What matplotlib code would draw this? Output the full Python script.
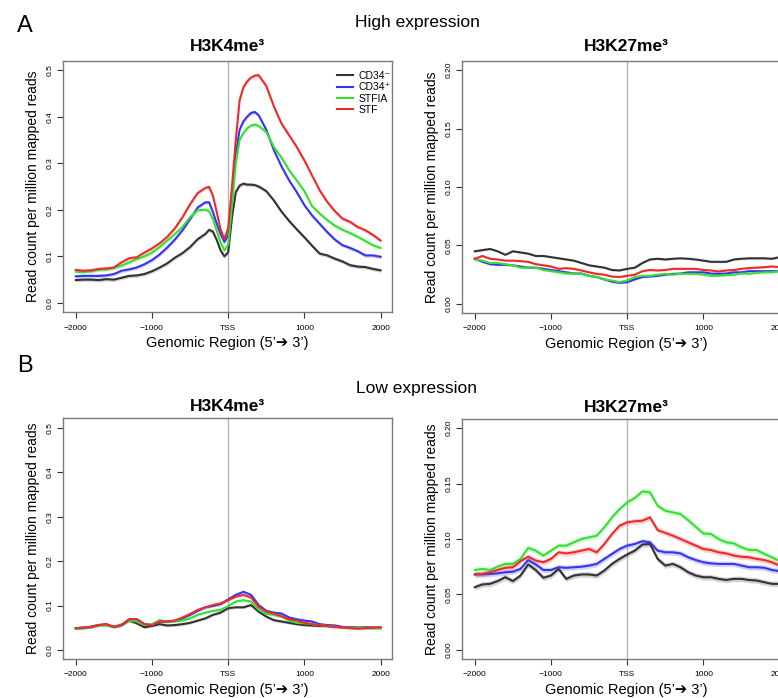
import matplotlib
matplotlib.use("Agg")
import matplotlib.pyplot as plt
import numpy as np

plt.rcParams["font.family"] = ["Liberation Sans", "DejaVu Sans"]

# ---- data ----
pos_fine = [-2000, -1900, -1800, -1700, -1600, -1500, -1400, -1300, -1200, -1100, -1000,
            -900, -800, -700, -600, -500, -400, -300, -250, -200, -150, -100, -50, 0,
            50, 100, 150, 200, 250, 300, 350, 400, 500, 600, 700, 800, 900, 1000,
            1100, 1200, 1300, 1400, 1500, 1600, 1700, 1800, 1900, 2000]
pos = list(range(-2000, 2001, 100))

# A: high expression, H3K4me3
hi_k4_cd34neg = [0.049, 0.050, 0.050, 0.049, 0.051, 0.050, 0.054, 0.058, 0.059, 0.062, 0.068,
                 0.076, 0.085, 0.097, 0.107, 0.120, 0.137, 0.148, 0.157, 0.153, 0.135, 0.113, 0.100, 0.109,
                 0.184, 0.238, 0.252, 0.256, 0.254, 0.254, 0.253, 0.250, 0.240, 0.220, 0.196, 0.176, 0.158, 0.141,
                 0.123, 0.106, 0.102, 0.095, 0.089, 0.081, 0.078, 0.077, 0.073, 0.070]
hi_k4_cd34pos = [0.057, 0.058, 0.058, 0.058, 0.059, 0.062, 0.069, 0.072, 0.076, 0.083, 0.092,
                 0.104, 0.119, 0.136, 0.156, 0.180, 0.205, 0.216, 0.216, 0.195, 0.170, 0.148, 0.131, 0.145,
                 0.225, 0.320, 0.372, 0.390, 0.400, 0.408, 0.410, 0.403, 0.372, 0.328, 0.293, 0.263, 0.238, 0.210,
                 0.188, 0.170, 0.152, 0.136, 0.124, 0.118, 0.111, 0.102, 0.102, 0.099]
hi_k4_stfia = [0.067, 0.066, 0.068, 0.071, 0.072, 0.075, 0.080, 0.087, 0.094, 0.100, 0.108,
               0.120, 0.134, 0.148, 0.163, 0.184, 0.199, 0.200, 0.197, 0.180, 0.155, 0.130, 0.113, 0.125,
               0.210, 0.300, 0.350, 0.365, 0.375, 0.381, 0.383, 0.380, 0.367, 0.335, 0.312, 0.285, 0.263, 0.240,
               0.208, 0.192, 0.178, 0.166, 0.157, 0.150, 0.142, 0.133, 0.124, 0.118]
hi_k4_stf = [0.071, 0.069, 0.070, 0.073, 0.074, 0.076, 0.087, 0.096, 0.098, 0.108, 0.117,
             0.128, 0.142, 0.160, 0.184, 0.212, 0.236, 0.247, 0.249, 0.230, 0.195, 0.158, 0.137, 0.160,
             0.250, 0.350, 0.435, 0.463, 0.476, 0.484, 0.488, 0.489, 0.466, 0.422, 0.385, 0.360, 0.335, 0.306,
             0.274, 0.242, 0.217, 0.197, 0.181, 0.174, 0.163, 0.156, 0.146, 0.134]

# A: high expression, H3K27me3
hi_k27_cd34neg = [0.045, 0.046, 0.047, 0.045, 0.042, 0.045, 0.044, 0.043, 0.041, 0.041, 0.040,
                  0.039, 0.038, 0.037, 0.035, 0.033, 0.032, 0.031, 0.029, 0.0286, 0.030,
                  0.031, 0.035, 0.038, 0.0386, 0.038, 0.0386, 0.039, 0.0386, 0.038, 0.037,
                  0.036, 0.036, 0.036, 0.038, 0.0386, 0.039, 0.039, 0.039, 0.0386, 0.040]
hi_k27_cd34pos = [0.0386, 0.036, 0.034, 0.0334, 0.0334, 0.033, 0.032, 0.031, 0.031, 0.030, 0.029,
                  0.028, 0.027, 0.026, 0.026, 0.024, 0.023, 0.021, 0.019, 0.018, 0.0186,
                  0.021, 0.023, 0.0234, 0.024, 0.025, 0.0257, 0.026, 0.027, 0.027, 0.027,
                  0.026, 0.0257, 0.026, 0.027, 0.027, 0.028, 0.028, 0.028, 0.028, 0.028]
hi_k27_stfia = [0.038, 0.037, 0.035, 0.035, 0.034, 0.033, 0.031, 0.031, 0.031, 0.029, 0.028,
                0.027, 0.026, 0.026, 0.0257, 0.024, 0.023, 0.021, 0.020, 0.0186, 0.020,
                0.023, 0.024, 0.024, 0.025, 0.0257, 0.025, 0.0257, 0.0257, 0.0257, 0.025,
                0.024, 0.024, 0.0246, 0.025, 0.026, 0.0257, 0.0266, 0.027, 0.027, 0.028]
hi_k27_stf = [0.0386, 0.041, 0.0386, 0.038, 0.037, 0.037, 0.0366, 0.036, 0.034, 0.033, 0.032,
              0.030, 0.0306, 0.030, 0.0286, 0.027, 0.0257, 0.025, 0.0234, 0.023, 0.024,
              0.025, 0.028, 0.029, 0.0286, 0.029, 0.030, 0.030, 0.030, 0.030, 0.029,
              0.0286, 0.0277, 0.0286, 0.029, 0.030, 0.0306, 0.031, 0.0314, 0.032, 0.0314]

# B: low expression, H3K4me3
lo_k4_cd34neg = [0.049, 0.050, 0.052, 0.056, 0.056, 0.052, 0.056, 0.066, 0.060, 0.051, 0.054,
                 0.058, 0.055, 0.056, 0.058, 0.061, 0.066, 0.071, 0.079, 0.084, 0.094,
                 0.096, 0.096, 0.101, 0.086, 0.075, 0.067, 0.064, 0.061, 0.058, 0.056,
                 0.055, 0.054, 0.054, 0.052, 0.051, 0.051, 0.050, 0.050, 0.050, 0.050]
lo_k4_cd34pos = [0.049, 0.050, 0.052, 0.056, 0.058, 0.052, 0.056, 0.069, 0.069, 0.058, 0.056,
                 0.064, 0.064, 0.066, 0.071, 0.079, 0.088, 0.096, 0.099, 0.103, 0.114,
                 0.124, 0.131, 0.124, 0.101, 0.088, 0.084, 0.082, 0.073, 0.069, 0.066,
                 0.064, 0.058, 0.056, 0.055, 0.052, 0.051, 0.050, 0.051, 0.050, 0.050]
lo_k4_stfia = [0.047, 0.049, 0.052, 0.056, 0.056, 0.052, 0.058, 0.066, 0.064, 0.056, 0.058,
               0.067, 0.064, 0.064, 0.066, 0.071, 0.079, 0.084, 0.088, 0.090, 0.099,
               0.109, 0.112, 0.109, 0.091, 0.081, 0.079, 0.075, 0.066, 0.061, 0.060,
               0.058, 0.056, 0.054, 0.052, 0.051, 0.050, 0.050, 0.050, 0.049, 0.049]
lo_k4_stf = [0.049, 0.050, 0.052, 0.056, 0.058, 0.052, 0.056, 0.069, 0.069, 0.058, 0.056,
             0.064, 0.064, 0.066, 0.073, 0.081, 0.090, 0.096, 0.101, 0.105, 0.112,
             0.120, 0.124, 0.118, 0.097, 0.086, 0.082, 0.076, 0.069, 0.066, 0.061,
             0.058, 0.056, 0.054, 0.052, 0.051, 0.049, 0.048, 0.049, 0.050, 0.051]

# B: low expression, H3K27me3
lo_k27_cd34neg = [0.0565, 0.059, 0.0595, 0.062, 0.0655, 0.062, 0.067, 0.077, 0.072, 0.065, 0.067,
                  0.073, 0.064, 0.067, 0.068, 0.068, 0.067, 0.0715, 0.0775, 0.082, 0.086,
                  0.0895, 0.095, 0.0955, 0.082, 0.076, 0.0775, 0.0745, 0.070, 0.067, 0.0655,
                  0.0655, 0.064, 0.063, 0.064, 0.064, 0.063, 0.0625, 0.061, 0.0595, 0.0595]
lo_k27_cd34pos = [0.068, 0.068, 0.0685, 0.069, 0.070, 0.0705, 0.073, 0.081, 0.077, 0.072, 0.072,
                  0.0745, 0.074, 0.0745, 0.075, 0.076, 0.0775, 0.082, 0.0865, 0.091, 0.094,
                  0.0955, 0.098, 0.097, 0.0895, 0.088, 0.088, 0.087, 0.0835, 0.081, 0.079,
                  0.078, 0.0775, 0.0775, 0.0775, 0.076, 0.0745, 0.0745, 0.074, 0.072, 0.071]
lo_k27_stfia = [0.072, 0.073, 0.072, 0.075, 0.0775, 0.0775, 0.082, 0.092, 0.0895, 0.085, 0.0895,
                0.094, 0.094, 0.097, 0.100, 0.1015, 0.103, 0.1105, 0.1195, 0.127, 0.133,
                0.137, 0.143, 0.142, 0.130, 0.1255, 0.124, 0.1225, 0.117, 0.111, 0.105,
                0.1045, 0.100, 0.097, 0.096, 0.0925, 0.090, 0.090, 0.0865, 0.0835, 0.080]
lo_k27_stf = [0.068, 0.0685, 0.070, 0.072, 0.074, 0.0745, 0.080, 0.084, 0.0805, 0.079, 0.082,
              0.088, 0.087, 0.088, 0.0895, 0.091, 0.088, 0.0955, 0.1045, 0.112, 0.115,
              0.116, 0.1165, 0.1195, 0.108, 0.1055, 0.103, 0.100, 0.097, 0.094, 0.091,
              0.090, 0.088, 0.087, 0.085, 0.084, 0.0835, 0.082, 0.081, 0.079, 0.076]

sample_names = ["CD34\u207b", "CD34\u207a", "STFIA", "STF"]
sample_colors = ["#333333", "#3535f0", "#35e035", "#ee2a2a"]

# standard-error band half width per panel
band_hi_k4 = 0.004
band_hi_k27 = 0.0008
band_lo_k4 = 0.003
band_lo_k27 = 0.0025

xtick_pos = [-2000, -1000, 0, 1000, 2000]
xtick_lab = ["\u22122000", "\u22121000", "TSS", "1000", "2000"]

W, H = 778, 698


def px_axes(fig, left, top, right, bottom):
    """Create axes from pixel box"""
    return fig.add_axes([left / W, 1 - bottom / H, (right - left) / W, (bottom - top) / H])


def draw_panel(ax, x, series, band, ylim, yticks, ylabels):
    ax.axvline(0, color="#b5b5b5", lw=1.0, zorder=1)
    for vals, col in zip(series, sample_colors):
        v = np.array(vals)
        ax.fill_between(x, v - band, v + band, color=col, alpha=0.22, lw=0, zorder=2)
        ax.plot(x, v, color=col, lw=1.5, zorder=3)
    ax.set_xlim(-2168, 2150)
    ax.set_ylim(*ylim)
    ax.set_xticks(xtick_pos)
    ax.set_xticklabels(xtick_lab, fontsize=6)
    ax.set_yticks(yticks)
    ax.set_yticklabels(ylabels, fontsize=6, rotation=90, va="center")
    ax.tick_params(axis="both", direction="out", length=4, width=0.8, color="#333333")
    ax.tick_params(axis="x", pad=5)
    ax.tick_params(axis="y", pad=2.5)
    for sp in ax.spines.values():
        sp.set_color("#7a7a7a")
        sp.set_linewidth(1.0)
    ax.set_ylabel("Read count per million mapped reads", fontsize=10, labelpad=5)
    ax.set_xlabel("Genomic Region (5\u2019\u2794 3\u2019)", fontsize=10.5, labelpad=3)


fig = plt.figure(figsize=(W / 100, H / 100), dpi=100)

k4_ticks = [0.0, 0.1, 0.2, 0.3, 0.4, 0.5]
k4_labs = ["0.0", "0.1", "0.2", "0.3", "0.4", "0.5"]
k27_ticks = [0.0, 0.05, 0.10, 0.15, 0.20]
k27_labs = ["0.00", "0.05", "0.10", "0.15", "0.20"]

ax1 = px_axes(fig, 63, 61, 392, 312)
draw_panel(ax1, pos_fine, [hi_k4_cd34neg, hi_k4_cd34pos, hi_k4_stfia, hi_k4_stf],
           band_hi_k4, (-0.0195, 0.5195), k4_ticks, k4_labs)
ax1.set_title("H3K4me\u00b3", fontsize=12.5, fontweight="bold", pad=7)
leg = ax1.legend(ax1.lines[1:], sample_names, loc="upper right", bbox_to_anchor=(1.015, 0.985),
                 frameon=False, fontsize=7.5, handlelength=1.6, handletextpad=0.5,
                 labelspacing=0.12, borderaxespad=0.2)

ax2 = px_axes(fig, 462, 61, 791, 313)
draw_panel(ax2, pos, [hi_k27_cd34neg, hi_k27_cd34pos, hi_k27_stfia, hi_k27_stf],
           band_hi_k27, (-0.0078, 0.2078), k27_ticks, k27_labs)
ax2.set_title("H3K27me\u00b3", fontsize=12.5, fontweight="bold", pad=7)

ax3 = px_axes(fig, 63, 418, 392, 659)
draw_panel(ax3, pos, [lo_k4_cd34neg, lo_k4_cd34pos, lo_k4_stfia, lo_k4_stf],
           band_lo_k4, (-0.0205, 0.5225), k4_ticks, k4_labs)
ax3.set_title("H3K4me\u00b3", fontsize=12.5, fontweight="bold", pad=5)

ax4 = px_axes(fig, 462, 419, 791, 659)
draw_panel(ax4, pos, [lo_k27_cd34neg, lo_k27_cd34pos, lo_k27_stfia, lo_k27_stf],
           band_lo_k27, (-0.0083, 0.2083), k27_ticks, k27_labs)
ax4.set_title("H3K27me\u00b3", fontsize=12.5, fontweight="bold", pad=5)

fig.text(17 / W, 1 - 32 / H, "A", fontsize=17, ha="left", va="baseline")
fig.text(17 / W, 1 - 372 / H, "B", fontsize=17, ha="left", va="baseline")
fig.text(417 / W, 1 - 22 / H, "High expression", fontsize=12.5, ha="center", va="center")
fig.text(417 / W, 1 - 388 / H, "Low expression", fontsize=12.5, ha="center", va="center")

fig.savefig("out.png", dpi=100)
